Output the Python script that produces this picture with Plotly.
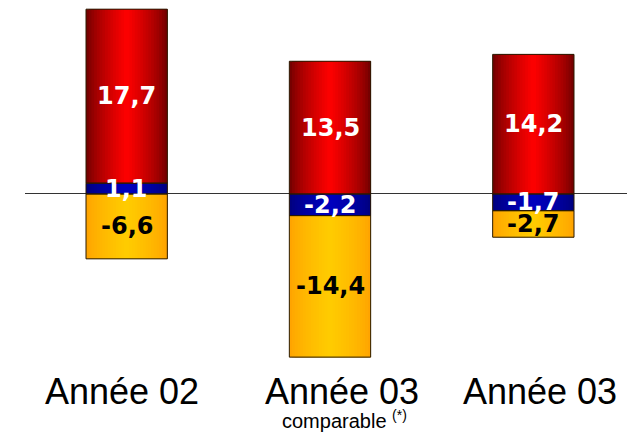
import plotly.graph_objects as go

categories = ["Année 02", "Année 03", "Année 03"]
subtitles = ["", "comparable <sup>(*)</sup>", ""]
blue_values = [1.1, -2.2, -1.7]
red_values = [17.7, 13.5, 14.2]
orange_values = [-6.6, -14.4, -2.7]

series = [
    (blue_values, ("#00007a", "#0000c0"), "white"),
    (red_values, ("#680000", "#ff0000"), "white"),
    (orange_values, ("#ffa000", "#ffcc00"), "black"),
]

xs = list(range(len(categories)))

# relative stacking bases
pos = [0.0] * len(xs)
neg = [0.0] * len(xs)
bases_all = []
for vals, _, _ in series:
    b = []
    for i, v in enumerate(vals):
        if v >= 0:
            b.append(pos[i]); pos[i] += v
        else:
            b.append(neg[i]); neg[i] += v
    bases_all.append(b)


def hex2rgb(h):
    h = h.lstrip("#")
    return [int(h[k:k + 2], 16) for k in (0, 2, 4)]


def mix(c1, c2, t):
    a, b = hex2rgb(c1), hex2rgb(c2)
    return "rgb(%d,%d,%d)" % tuple(round(a[k] + (b[k] - a[k]) * t) for k in range(3))


W = 0.4
N = 30
fig = go.Figure()
all_x, all_y, all_b = [], [], []
for (vals, _, _), b in zip(series, bases_all):
    all_x += xs; all_y += vals; all_b += b

for s in range(N):
    t = 1 - abs((s + 0.5) / N - 0.5) * 2
    t = t ** 0.7
    colors = []
    for vals, (edge, center), _ in series:
        colors += [mix(edge, center, t)] * len(vals)
    off = -W / 2 + s * W / N
    wid = min(3 * W / N, W / 2 - off)
    fig.add_trace(go.Bar(
        x=all_x, y=all_y, base=all_b, width=wid, offset=off,
        marker=dict(color=colors, line=dict(width=0)), hoverinfo="skip", showlegend=False))

fig.add_trace(go.Bar(
    x=all_x, y=all_y, base=all_b, width=W, offset=-W / 2,
    marker=dict(color="rgba(0,0,0,0)", line=dict(color="#2a1a00", width=1)),
    hoverinfo="skip", showlegend=False))

for (vals, _, tcol), b in zip(series, bases_all):
    for i, v in enumerate(vals):
        fig.add_annotation(x=xs[i], y=b[i] + v / 2, text=("%.1f" % v).replace(".", ","),
                           showarrow=False, xref="x", yref="y",
                           font=dict(family="DejaVu Sans", size=24, color=tcol, weight="bold"))

label_shift = [-5, 12, 7]
for i, (c, sub) in enumerate(zip(categories, subtitles)):
    fig.add_annotation(x=xs[i], y=0, xref="x", yref="paper", text=c, showarrow=False,
                       xanchor="center", yanchor="middle", xshift=label_shift[i], yshift=-26,
                       font=dict(family="Liberation Sans", size=36, color="black"))
    if sub:
        fig.add_annotation(x=xs[i], y=0, xref="x", yref="paper", text=sub, showarrow=False,
                           xanchor="center", yanchor="middle", xshift=label_shift[i] + 2, yshift=-54,
                           font=dict(family="Liberation Sans", size=20, color="black"))

fig.update_layout(
    width=635, height=432, barmode="overlay",
    margin=dict(l=17, r=8, t=0, b=75),
    paper_bgcolor="white", plot_bgcolor="white",
    xaxis=dict(range=[-0.5, 2.5], showgrid=False, zeroline=False, showline=False,
               showticklabels=False, ticks="", automargin=False),
    yaxis=dict(range=[-17.4, 18.92], showgrid=False, showticklabels=False, automargin=False,
               zeroline=True, zerolinecolor="#333", zerolinewidth=1, showline=False),
)

fig.write_html("out.html")
